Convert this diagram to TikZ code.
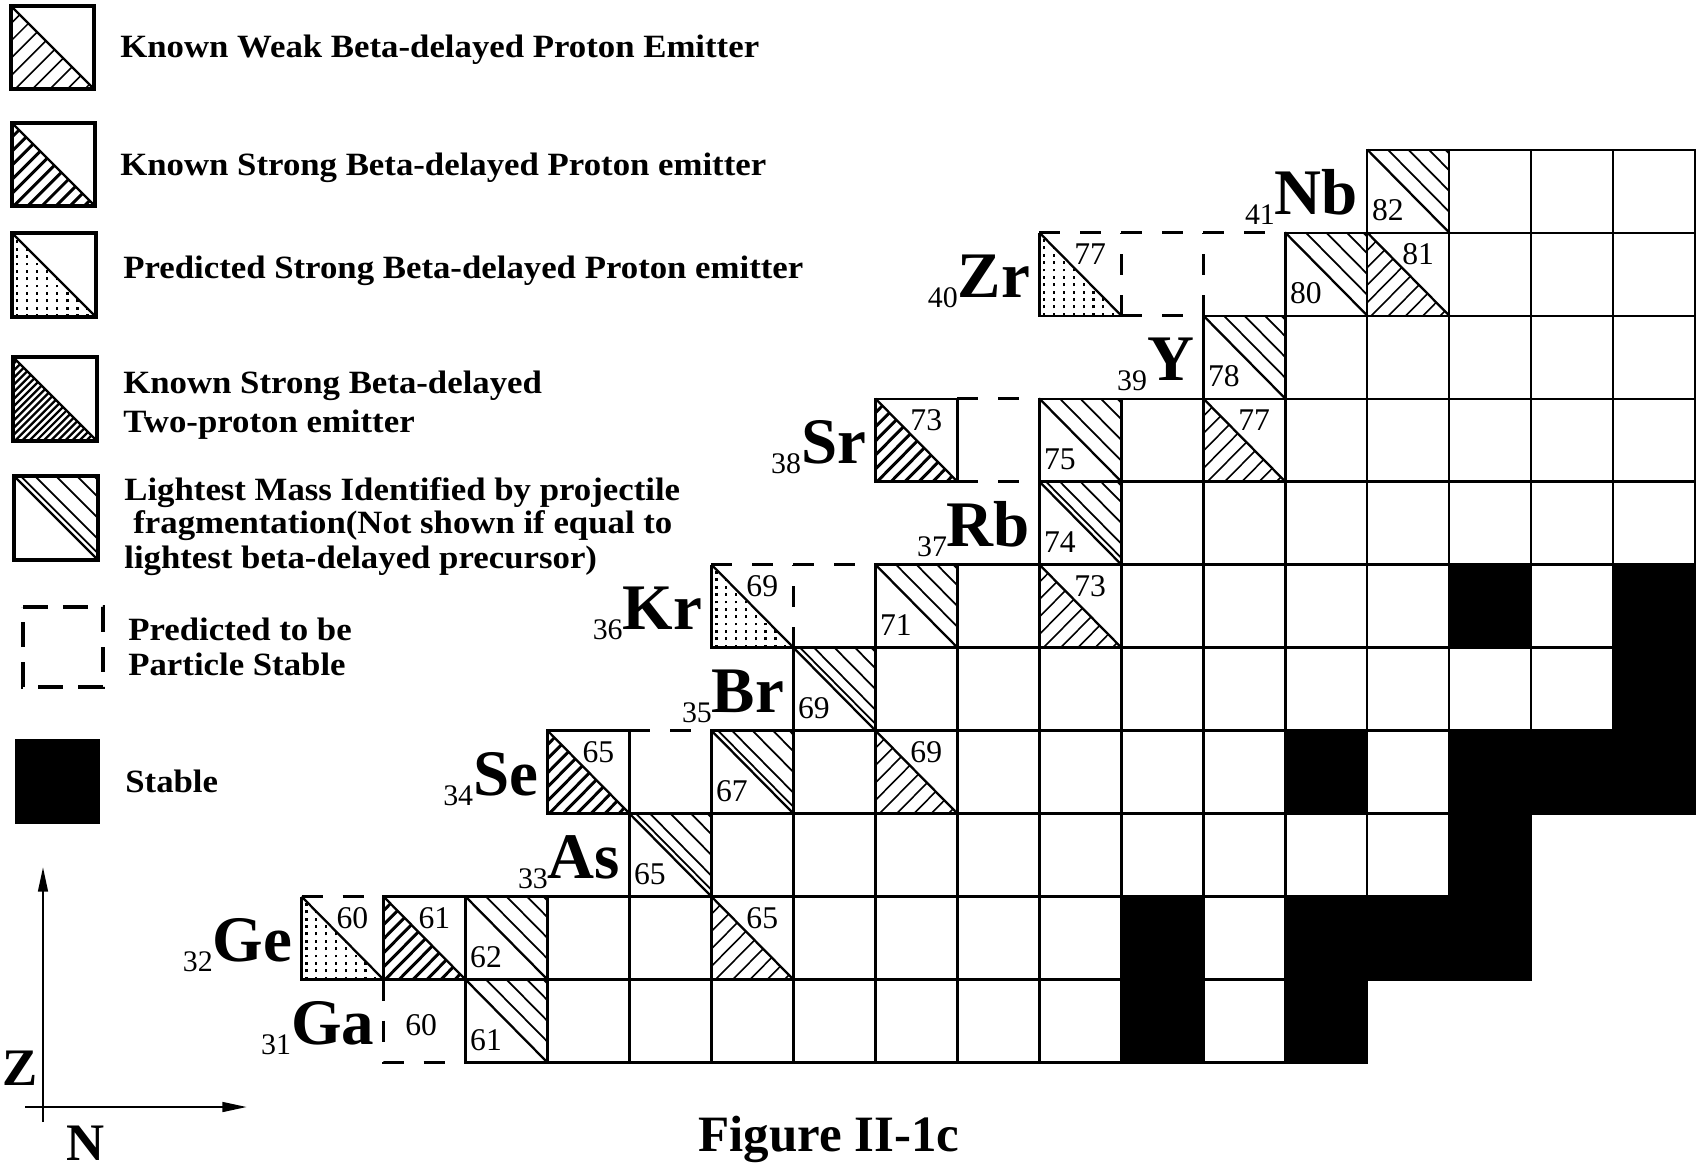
\documentclass[tikz,border=0pt]{standalone}
\usepackage{fontspec}
\setmainfont{Liberation Serif}
\newfontfamily\legfont[FakeStretch=1.07]{Liberation Serif}
\usetikzlibrary{arrows.meta}

\tikzset{
  gridline/.style={line width=1.3pt},
  dashedge/.style={line width=1.4pt, dash pattern=on 0.42cm off 0.4cm},
  legdash/.style={line width=1.8pt, dash pattern=on 0.5cm off 0.3cm},
  diagline/.style={line width=1.3pt},
  lmline/.style={line width=1pt},
  weakline/.style={line width=0.9pt},
  strongline/.style={line width=1.7pt},
  twopline/.style={line width=1.3pt},
  dotline/.style={line width=1.3pt, dash pattern=on 1.6pt off 2.6pt},
  legbox/.style={line width=2pt},
  numlabel/.style={font=\fontsize{18}{18}\selectfont, inner sep=0},
  legtext/.style={font=\legfont\bfseries\fontsize{18.5}{20}\selectfont, inner sep=0, anchor=base west},
}

% upper-right hatching: lightest mass
\newcommand\lmfill[3]{%
  \begin{scope}
    \clip (#1,#2+1) -- (#1+1,#2+1) -- (#1+1,#2) -- cycle;
    \foreach \hh in {0.25,0.5,0.75,0.95} {\draw[lmline] (#1+\hh,#2+1) -- ++(1,-1);}
    \ifnum#3=1 \draw[lmline] (#1+0.08,#2+1) -- ++(1,-1);\fi
  \end{scope}
  \draw[diagline] (#1,#2+1) -- (#1+1,#2);}
% lower-left slash hatching: emitters
\newcommand\slashfill[4]{%
  \begin{scope}
    \clip (#1,#2+1) -- (#1,#2) -- (#1+1,#2) -- cycle;
    \foreach \kk in {0,...,25} {\draw[#4] (#1-1+\kk*#3,#2) -- ++(1,1);}
  \end{scope}
  \draw[diagline] (#1,#2+1) -- (#1+1,#2);}
% lower-left dotted: predicted
\newcommand\predfill[2]{%
  \begin{scope}
    \clip (#1,#2+1) -- (#1,#2) -- (#1+1,#2) -- cycle;
    \foreach \kk in {0,...,8} {\draw[dotline] (#1+0.06+\kk*0.12,#2) -- ++(0,1);}
  \end{scope}
  \draw[diagline] (#1,#2+1) -- (#1+1,#2);}
\newcommand\urlab[3]{\node[numlabel] (u#1-#2) at (#1+0.62,#2+0.74) {#3};}
\newcommand\bllab[3]{\node[numlabel] (b#1-#2) at (#1+0.25,#2+0.27) {#3};}
\newcommand\elem[5]{\node[anchor=base east, inner sep=0] (#1) at (#2-0.11,#3+0.22)
  {\raisebox{-0.2cm}{\fontsize{17}{17}\selectfont #4}\fontsize{37}{37}\selectfont\bfseries #5};}

\begin{document}
\begin{tikzpicture}[x=0.02cm,y=-0.02cm]
\useasboundingbox (0,0) rectangle (1703,1171);
\fill[white] (0,0) rectangle (1703,1171);

% ---------------- legend ----------------
\begin{scope}[shift={(11,89)}, x=1.66cm, y=1.66cm]
  \slashfill{0}{0}{0.21}{weakline}
  \draw[legbox] (0,0) rectangle (1,1);
\end{scope}
\begin{scope}[shift={(12,206)}, x=1.66cm, y=1.66cm]
  \slashfill{0}{0}{0.17}{strongline}
  \draw[legbox] (0,0) rectangle (1,1);
\end{scope}
\begin{scope}[shift={(12,317)}, x=1.68cm, y=1.68cm]
  \predfill{0}{0}
  \draw[legbox] (0,0) rectangle (1,1);
\end{scope}
\begin{scope}[shift={(13,441)}, x=1.68cm, y=1.68cm]
  \slashfill{0}{0}{0.085}{twopline}
  \draw[legbox] (0,0) rectangle (1,1);
\end{scope}
\begin{scope}[shift={(14,560)}, x=1.68cm, y=1.68cm]
  \lmfill{0}{0}{1}
  \draw[legbox] (0,0) rectangle (1,1);
\end{scope}
\begin{scope}[shift={(23,687)}, x=1.6cm, y=1.6cm]
  \draw[legdash] (0,1) -- (1,1) -- (1,0) -- (0,0) -- cycle;
\end{scope}
\begin{scope}[shift={(15,824)}, x=1.7cm, y=1.7cm]
  \fill (0,0) rectangle (1,1);
\end{scope}

\node[legtext] (lt1) at (120,57) {Known Weak Beta-delayed Proton Emitter};
\node[legtext] (lt2) at (120,175) {Known Strong Beta-delayed Proton emitter};
\node[legtext] (lt3) at (123,278) {Predicted Strong Beta-delayed Proton emitter};
\node[legtext] (lt4a) at (123,393) {Known Strong Beta-delayed};
\node[legtext] (lt4b) at (123,432) {Two-proton emitter};
\node[legtext] (lt5a) at (124,500) {Lightest Mass Identified by projectile};
\node[legtext] (lt5b) at (133,533) {fragmentation(Not shown if equal to};
\node[legtext] (lt5c) at (124,568) {lightest beta-delayed precursor)};
\node[legtext] (lt6a) at (128,640) {Predicted to be};
\node[legtext] (lt6b) at (128,675) {Particle Stable};
\node[legtext] (lt7) at (125,792) {Stable};

% ---------------- axes ----------------
\coordinate (zbot) at (43,1122);
\coordinate (ztop) at (43,867);
\coordinate (nleft) at (25,1107);
\coordinate (nright) at (247,1107);
\draw[line width=1.4pt, -{Triangle[length=14pt,width=5.5pt]}] (zbot) -- (ztop);
\draw[line width=1.4pt, -{Triangle[length=14pt,width=5.5pt]}] (nleft) -- (nright);
\node[font=\fontsize{30}{30}\selectfont\bfseries, inner sep=0] (zlab) at (20,1068) {Z};
\node[font=\fontsize{30}{30}\selectfont\bfseries, inner sep=0, anchor=base] (nlab) at (86,1160) {N};
\node[font=\fontsize{29}{29}\selectfont\bfseries, inner sep=0, anchor=base west] (cap) at (698,1151) {Figure II-1c};

% ---------------- chart ----------------
\begin{scope}[shift={(-1994,3635)}, x=1.64cm, y=1.66cm]
  % stable
  \foreach \n/\z in {38/31,40/31,38/32,40/32,41/32,42/32,42/33,40/34,42/34,43/34,44/34,44/35,42/36,44/36}
    {\fill (\n,\z) rectangle ++(1,1);}
  % lightest mass
  \lmfill{30}{31}{0} \bllab{30}{31}{61}
  \lmfill{30}{32}{0} \bllab{30}{32}{62}
  \lmfill{32}{33}{1} \bllab{32}{33}{65}
  \lmfill{33}{34}{1} \bllab{33}{34}{67}
  \lmfill{34}{35}{1} \bllab{34}{35}{69}
  \lmfill{35}{36}{0} \bllab{35}{36}{71}
  \lmfill{37}{37}{1} \bllab{37}{37}{74}
  \lmfill{37}{38}{0} \bllab{37}{38}{75}
  \lmfill{39}{39}{0} \bllab{39}{39}{78}
  \lmfill{40}{40}{0} \bllab{40}{40}{80}
  \lmfill{41}{41}{0} \bllab{41}{41}{82}
  % known weak
  \slashfill{33}{32}{0.21}{weakline} \urlab{33}{32}{65}
  \slashfill{35}{34}{0.21}{weakline} \urlab{35}{34}{69}
  \slashfill{37}{36}{0.21}{weakline} \urlab{37}{36}{73}
  \slashfill{39}{38}{0.21}{weakline} \urlab{39}{38}{77}
  \slashfill{41}{40}{0.21}{weakline} \urlab{41}{40}{81}
  % known strong
  \slashfill{29}{32}{0.17}{strongline} \urlab{29}{32}{61}
  \slashfill{31}{34}{0.17}{strongline} \urlab{31}{34}{65}
  \slashfill{35}{38}{0.17}{strongline} \urlab{35}{38}{73}
  % predicted strong
  \predfill{28}{32} \urlab{28}{32}{60}
  \predfill{33}{36} \urlab{33}{36}{69}
  \predfill{37}{40} \urlab{37}{40}{77}
  % solid cells
  \foreach \z/\a/\b in {31/30/40, 32/29/42, 33/32/42, 34/33/44, 35/34/44, 36/35/44,
                        37/37/44, 38/37/44, 39/39/44, 40/40/44, 41/41/44}
    {\foreach \n in {\a,...,\b} {\draw[gridline] (\n,\z) rectangle ++(1,1);}}
  \draw[gridline] (31,34) rectangle ++(1,1);
  \draw[gridline] (35,38) rectangle ++(1,1);
  \draw[gridline] (28,33) -- (28,32) -- (29,32);
  \draw[gridline] (33,37) -- (33,36) -- (34,36);
  \draw[gridline] (37,41) -- (37,40) -- (38,40);
  % predicted particle stable (dashed)
  \draw[dashedge] (29,32) -- (29,31) -- (30,31);
  \node[numlabel] (ga60) at (29.46,31.45) {60};
  \draw[dashedge] (28,33) -- (29,33);
  \draw[dashedge] (32,35) -- (33,35);
  \draw[dashedge] (33,37) -- (35,37);
  \draw[dashedge] (34,36) -- (34,37);
  \draw[dashedge] (36,39) -- (37,39);
  \draw[dashedge] (36,38) -- (37,38);
  \draw[dashedge] (37,41) -- (40,41);
  \draw[dashedge] (38,40) -- (38,41);
  \draw[dashedge] (39,40) -- (39,41);
  \draw[dashedge] (38,40) -- (39,40);
  % element labels
  \elem{elGa}{29}{31}{31}{Ga}
  \elem{elGe}{28}{32}{32}{Ge}
  \elem{elAs}{32}{33}{33}{As}
  \elem{elSe}{31}{34}{34}{Se}
  \elem{elBr}{34}{35}{35}{Br}
  \elem{elKr}{33}{36}{36}{Kr}
  \elem{elRb}{37}{37}{37}{Rb}
  \elem{elSr}{35}{38}{38}{Sr}
  \elem{elY}{39}{39}{39}{Y}
  \elem{elZr}{37}{40}{40}{Zr}
  \elem{elNb}{41}{41}{41}{Nb}
\end{scope}
\end{tikzpicture}
\end{document}
